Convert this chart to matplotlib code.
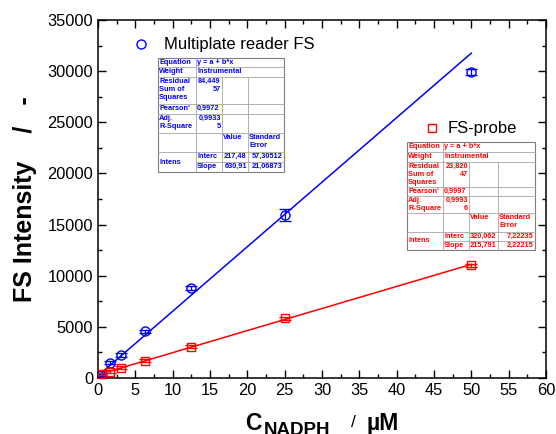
import matplotlib
matplotlib.use("Agg")
import matplotlib.pyplot as plt
from matplotlib.lines import Line2D
import numpy as np

plt.rcParams['font.family'] = ['Liberation Sans', 'DejaVu Sans']

# NADPH concentrations (µM)
conc = [0.39, 1.5625, 3.125, 6.25, 12.5, 25, 50]

# multiplate reader signal
mp_mean = [290, 1480, 2250, 4580, 8800, 15930, 29920]
mp_err = [120, 150, 150, 150, 150, 600, 280]

# FS-probe signal
fs_mean = [390, 630, 1010, 1690, 3070, 5840, 11040]
fs_err = [120, 120, 120, 120, 150, 150, 150]

# linear fits y = a + b*x
mp_fit = {'a': 217.48, 'b': 630.91, 'a_err': '57,30512', 'b_err': '21,06873',
          'rss': '84,449\n57', 'pearson': '0,9972', 'adj_r2': '0,9933\n5',
          'a_txt': '217,48', 'b_txt': '630,91'}
fs_fit = {'a': 320.062, 'b': 215.791, 'a_err': '7,22235', 'b_err': '2,22215',
          'rss': '23,820\n47', 'pearson': '0,9997', 'adj_r2': '0,9993\n6',
          'a_txt': '320,062', 'b_txt': '215,791'}

BLUE = '#0000ff'
RED = '#ff0000'
W, H = 556, 434

fig = plt.figure(figsize=(W / 100, H / 100), dpi=100)
ax = fig.add_axes([98 / W, 1 - 378 / H, 448 / W, 358 / H])


def px(x, y):
    return x / W, 1 - y / H


# fitted lines
xs = np.array([0, 50])
ax.plot(xs, mp_fit['a'] + mp_fit['b'] * xs, color=BLUE, lw=1.1, zorder=2)
ax.plot(xs, fs_fit['a'] + fs_fit['b'] * xs, color=RED, lw=1.1, zorder=2)

# data points
ax.errorbar(conc, mp_mean, yerr=mp_err, fmt='o', ms=6.5, mfc='none', mec=BLUE,
            ecolor=BLUE, elinewidth=0.9, capsize=4.5, capthick=0.9, mew=1.0, zorder=3)
ax.errorbar(conc, fs_mean, yerr=fs_err, fmt='s', ms=5.8, mfc='none', mec=RED,
            ecolor=RED, elinewidth=0.9, capsize=4.5, capthick=0.9, mew=1.0, zorder=3)

ax.set_xlim(0, 60)
ax.set_ylim(0, 35000)
ax.set_xticks(np.arange(0, 61, 5))
ax.set_yticks(np.arange(0, 35001, 5000))
ax.set_xticks(np.arange(0, 60.1, 2.5), minor=True)
ax.set_yticks(np.arange(0, 35001, 2500), minor=True)
ax.tick_params(which='both', direction='in', top=True, right=True, labelsize=11.8, width=1)
ax.tick_params(which='major', length=6)
ax.tick_params(which='minor', length=3)
for s in ax.spines.values():
    s.set_linewidth(1.1)

# axis titles
fig.text(25 / W, 1 - 199 / H, 'FS Intensity    /   -', rotation=90, ha='center',
         va='center', fontsize=18, fontweight='bold')
fig.text(245 / W, 1 - 430 / H, 'C', fontsize=16.5, fontweight='bold',
         ha='left', va='baseline')
fig.text(264 / W, 1 - 435 / H, 'NADPH', fontsize=13.5, fontweight='bold',
         ha='left', va='baseline')
fig.text(351 / W, 1 - 427 / H, '/', fontsize=12.5, ha='left', va='baseline')
fig.text(367 / W, 1 - 430 / H, 'µM', fontsize=16.5, fontweight='bold',
         ha='left', va='baseline')

# legends
leg1 = ax.legend(handles=[Line2D([], [], ls='none', marker='o', ms=6.5, mfc='none',
                                 mec=BLUE, mew=1.0)],
                 labels=['Multiplate reader FS'], loc='center left',
                 bbox_to_anchor=px(131, 45), bbox_transform=fig.transFigure,
                 frameon=False, fontsize=12, handlelength=1.2, handletextpad=0.8,
                 borderpad=0, borderaxespad=0)
ax.add_artist(leg1)
ax.legend(handles=[Line2D([], [], ls='none', marker='s', ms=5.8, mfc='none',
                          mec=RED, mew=1.0)],
          labels=['FS-probe'], loc='center left',
          bbox_to_anchor=px(422, 129), bbox_transform=fig.transFigure,
          frameon=False, fontsize=12, handlelength=1.2, handletextpad=0.35,
          borderpad=0, borderaxespad=0)


def fit_table(cols, rows, fit, color):
    """Draw a fit report table; cols/rows are pixel edges."""
    fs = 5.3
    tr = fig.transFigure
    x0, x1 = cols[0], cols[-1]
    y0, y1 = rows[0], rows[-1]
    bx, by = px(x0, y1)
    bw, bh = (x1 - x0) / W, (y1 - y0) / H
    fig.patches.append(plt.Rectangle((bx, by), bw, bh, transform=tr,
                                     fc='white', ec='#7f7f7f', lw=0.8, zorder=5))
    lc = '#a6a6a6'

    def hline(y, xa, xb):
        fig.add_artist(Line2D([xa / W, xb / W], [1 - y / H] * 2, transform=tr,
                              color=lc, lw=0.6, zorder=6))

    def vline(x, ya, yb):
        fig.add_artist(Line2D([x / W] * 2, [1 - ya / H, 1 - yb / H], transform=tr,
                              color=lc, lw=0.6, zorder=6))

    for i, y in enumerate(rows[1:-1], start=1):
        hline(y, cols[1] if i == 7 else x0, x1)
    vline(cols[1], y0, y1)
    vline(cols[2], rows[2], y1)
    vline(cols[3], rows[2], y1)

    def cell(txt, c, r, ha='left'):
        xt = cols[c] + 1.2 if ha == 'left' else cols[c + 1] - 1.2
        fig.text(xt / W, 1 - (rows[r] + 0.8) / H, txt, transform=tr, ha=ha, va='top',
                 fontsize=fs, fontweight='bold', color=color, zorder=7,
                 linespacing=1.22)

    cell('Equation', 0, 0)
    cell('y = a + b*x', 1, 0)
    cell('Weight', 0, 1)
    cell('Instrumental', 1, 1)
    cell('Residual\nSum of\nSquares', 0, 2)
    cell(fit['rss'], 1, 2, ha='right')
    cell("Pearson'", 0, 3)
    cell(fit['pearson'], 1, 3)
    cell('Adj.\nR-Square', 0, 4)
    cell(fit['adj_r2'], 1, 4, ha='right')
    cell('Value', 2, 5)
    cell('Standard\nError', 3, 5)
    fig.text((cols[0] + 1.2) / W, 1 - (rows[6] + rows[8]) / 2 / H, 'Intens',
             transform=tr, ha='left', va='center', fontsize=fs, fontweight='bold',
             color=color, zorder=7)
    cell('Interc', 1, 6)
    cell(fit['a_txt'], 2, 6, ha='right')
    cell(fit['a_err'], 3, 6, ha='right')
    cell('Slope', 1, 7)
    cell(fit['b_txt'], 2, 7, ha='right')
    cell(fit['b_err'], 3, 7, ha='right')


fit_table([158, 196, 222, 248, 284], [58, 67, 77, 104, 114, 133, 152, 162, 172],
          mp_fit, BLUE)
fit_table([407, 443, 469, 498, 535], [142, 152, 162, 187, 196, 213, 232, 241, 250],
          fs_fit, RED)

fig.savefig('out.png', dpi=100)
